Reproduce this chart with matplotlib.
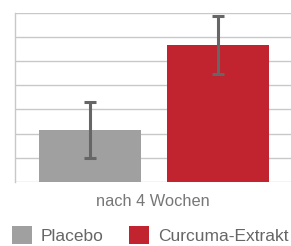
import matplotlib
matplotlib.use("Agg")
import matplotlib.pyplot as plt
from matplotlib.patches import Patch

categories = ["Placebo", "Curcuma-Extrakt"]
values = [2.15, 5.66]
errors = [1.17, 1.19]
group_label = "nach 4 Wochen"
colors = ["#a0a0a0", "#c1232f"]

fig = plt.figure(figsize=(2.91, 2.46), dpi=100)
ax = fig.add_axes([15/291, 1-182/246, 1-15/291, (182-12.7)/246])
x = [0, 1]
ax.bar(x, values, width=0.8, color=colors, zorder=2)
ax.errorbar(x, values, yerr=errors, fmt="none", ecolor="#666666", elinewidth=2.2,
            capsize=4, capthick=2.2, zorder=3)
ax.set_xlim(-0.59, 1.574)
ax.set_ylim(0, 7)
ax.set_yticks(range(0, 8))
ax.grid(axis="y", color="#c8c8c8", linewidth=1.0, zorder=0)
ax.set_axisbelow(True)
for s in ["top", "right", "bottom"]:
    ax.spines[s].set_visible(False)
ax.spines["left"].set_color("#c8c8c8")
ax.spines["left"].set_linewidth(1.0)
ax.tick_params(left=False, bottom=False, labelleft=False, labelbottom=False)

fig.text(153/291, 1-202/246, group_label, ha="center", va="center", fontsize=11.8,
         color="#777777", family=["Liberation Sans", "DejaVu Sans"])

fs = 12.5
fpx = fs * 100 / 72
handles = [Patch(facecolor=c, edgecolor="none") for c in colors]
fig.legend(handles, categories, loc="lower left", bbox_to_anchor=(12/291, 2/246),
           ncol=2, frameon=False, handlelength=20/fpx, handleheight=20/fpx,
           handletextpad=9/fpx, columnspacing=25/fpx, borderaxespad=0, borderpad=0,
           prop={"family": ["Liberation Sans", "DejaVu Sans"], "size": fs},
           labelcolor="#666666")

fig.savefig("out.png", dpi=100)
